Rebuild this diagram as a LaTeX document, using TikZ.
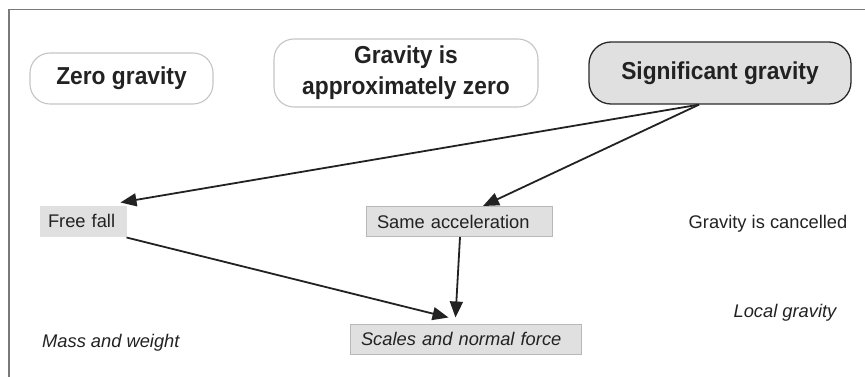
\documentclass[tikz,border=0pt]{standalone}
\usepackage{fontspec}
\setmainfont{Liberation Sans}
\usetikzlibrary{arrows.meta}
\definecolor{txt}{HTML}{222222}
\definecolor{frame}{HTML}{7A7A7A}
\definecolor{lightedge}{HTML}{C4C4C4}
\definecolor{darkedge}{HTML}{2A2A2A}
\definecolor{boxfill}{HTML}{E0E0E0}
\definecolor{boxedge}{HTML}{B8B8B8}
\newcommand{\bigbold}{\fontsize{24.5pt}{31pt}\selectfont\bfseries\addfontfeature{FakeStretch=0.93}}
\tikzset{
  topbox/.style={draw=lightedge, line width=1.1pt, rounded corners=20pt, inner sep=0pt,
    text=txt, align=center, font=\bigbold},
  sigbox/.style={topbox, draw=darkedge, fill=boxfill, line width=1.3pt, rounded corners=22pt},
  smallbox/.style={fill=boxfill, draw=boxedge, line width=1pt, inner ysep=0pt, inner xsep=11pt,
    minimum height=30pt, align=left, text=txt, font=\fontsize{18.3pt}{21pt}\selectfont},
  plain/.style={inner sep=0pt, text=txt, font=\fontsize{18.3pt}{21pt}\selectfont},
  arr/.style={draw=txt, line width=1.8pt, -{Triangle[length=16pt,width=13pt]}}
}
\begin{document}
\begin{tikzpicture}[x=1pt,y=-1pt]
\useasboundingbox (0,0) rectangle (865,377);
% frame
\draw[frame, line width=1.5pt] (9,377) -- (9,9.5) -- (865,9.5);
% top boxes
\node[topbox, minimum width=183pt, minimum height=51pt] (zero) at (121.5,78.5) {Zero gravity};
\node[topbox, minimum width=264pt, minimum height=68pt] (approx) at (406,73) {Gravity is\\approximately zero};
\node[sigbox, minimum width=262pt, minimum height=62pt] (sig) at (720,73) {Significant gravity};
% small boxes
\node[smallbox, draw=boxfill, inner xsep=8pt, text width=70pt] (ff) at (83,221) {Free fall};
\node[smallbox, text width=164pt] (same) at (459,221.5) {Same acceleration};
\node[smallbox, text width=209pt, font=\fontsize{18.3pt}{21pt}\selectfont\itshape] (scales) at (465.5,339) {Scales and normal force};
% plain labels
\node[plain] (cancel) at (768,224) {Gravity is cancelled};
\node[plain, font=\fontsize{18.3pt}{21pt}\selectfont\itshape] (local) at (785,313) {Local gravity};
\node[plain, font=\fontsize{18.3pt}{21pt}\selectfont\itshape, anchor=west] (mass) at (42,343) {Mass and weight};
% arrows
\draw[arr] ([xshift=-21pt]sig.south) -- ([xshift=-6pt,yshift=3pt]ff.north east);
\draw[arr] ([xshift=-21pt]sig.south) -- ([xshift=24pt]same.north);
\draw[arr] ([yshift=-1pt]ff.south east) -- ([xshift=-17pt,yshift=6pt]scales.north);
\draw[arr] ([xshift=1pt]same.south) -- ([xshift=-10pt,yshift=6pt]scales.north);
\end{tikzpicture}
\end{document}
